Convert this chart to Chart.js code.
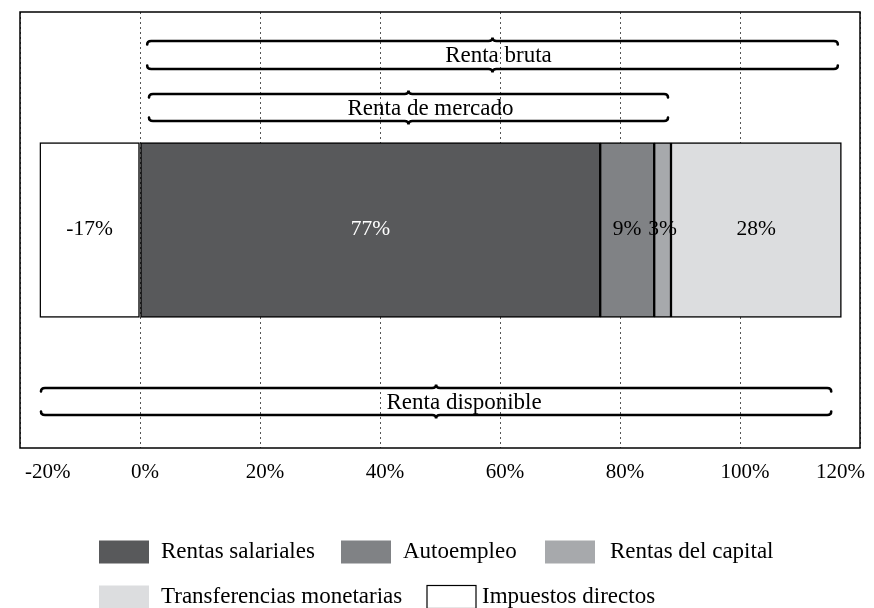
<!DOCTYPE html>
<html>
<head>
<meta charset="utf-8">
<script src="https://cdn.jsdelivr.net/npm/chart.js@4/dist/chart.umd.min.js"></script>
<style>
  html, body { margin: 0; padding: 0; background: #fff; }
  #wrap { width: 874px; height: 608px; position: relative; }
</style>
</head>
<body>
<div id="wrap"><canvas id="c"></canvas></div>
<script>
// ---- Data ----
const categories = [''];
const seriesNames = ['Impuestos directos', 'Rentas salariales', 'Autoempleo', 'Rentas del capital', 'Transferencias monetarias'];
const seriesValues = [-16.7, 76.7, 9.0, 2.8, 28.4];
const legendOrder = ['Rentas salariales', 'Autoempleo', 'Rentas del capital', 'Transferencias monetarias', 'Impuestos directos'];
const xTicks = [-20, 0, 20, 40, 60, 80, 100, 120];
const braceLabels = ['Renta bruta', 'Renta de mercado', 'Renta disponible'];
const braceStart = [1.2, 1.5, -16.5];
const braceEnd = [116.3, 88.0, 115.2];

// ---- Styles / layout ----
const FONT = "'Liberation Serif', 'Times New Roman', serif";
const seriesColors = {
  'Impuestos directos': '#ffffff',
  'Rentas salariales': '#58595b',
  'Autoempleo': '#808285',
  'Rentas del capital': '#a7a9ac',
  'Transferencias monetarias': '#dcdddf'
};
const labelColors = {
  'Rentas salariales': '#ffffff'
};
// brace vertical offsets relative to chart area top (top line, bottom line), label x shift
const braceRows = [[29, 57], [82, 109], [376, 403]];
const braceTextShift = [6, 22, 28];
// legend layout: [boxX, centerY, textX]
const legendLayout = [[99, 552, 161], [341, 552, 403], [545, 552, 610], [99, 597, 161], [427, 597, 482]];

const datasets = seriesNames.map((name, i) => ({
  label: name,
  data: [seriesValues[i]],
  backgroundColor: seriesColors[name],
  borderColor: '#000000',
  borderWidth: 1.5,
  borderSkipped: false,
  barThickness: 175,
  stack: 's'
}));

const boxPlugin = {
  id: 'box',
  afterDraw(chart) {
    const { ctx, chartArea: a } = chart;
    ctx.save();
    ctx.strokeStyle = '#000';
    ctx.lineWidth = 1.5;
    ctx.strokeRect(a.left, a.top, a.right - a.left, a.bottom - a.top);
    ctx.restore();
  }
};

const barLabelPlugin = {
  id: 'barLabels',
  afterDatasetsDraw(chart) {
    const { ctx } = chart;
    ctx.save();
    ctx.font = '21.5px ' + FONT;
    ctx.textAlign = 'center';
    ctx.textBaseline = 'middle';
    chart.data.datasets.forEach((ds, i) => {
      const meta = chart.getDatasetMeta(i);
      meta.data.forEach((el, j) => {
        const { x, y, base } = el.getProps(['x', 'y', 'base'], true);
        ctx.fillStyle = labelColors[ds.label] || '#000';
        ctx.fillText(Math.round(ds.data[j]) + '%', (x + base) / 2, y - 1);
      });
    });
    ctx.restore();
  }
};

function drawBrace(ctx, x1, x2, y, dir) {
  // dir = 1: ends curl downward, middle tip up (top brace); dir = -1: mirrored
  const xm = (x1 + x2) / 2, r = 4, h = 3.5;
  ctx.beginPath();
  ctx.moveTo(x1, y + dir * h);
  ctx.quadraticCurveTo(x1, y, x1 + r, y);
  ctx.lineTo(xm - r, y);
  ctx.quadraticCurveTo(xm, y, xm, y - dir * h);
  ctx.quadraticCurveTo(xm, y, xm + r, y);
  ctx.lineTo(x2 - r, y);
  ctx.quadraticCurveTo(x2, y, x2, y + dir * h);
  ctx.stroke();
}

const bracePlugin = {
  id: 'braces',
  afterDatasetsDraw(chart) {
    const { ctx, chartArea: a } = chart;
    const xs = chart.scales.x;
    ctx.save();
    ctx.strokeStyle = '#000';
    ctx.lineWidth = 2.6;
    ctx.lineCap = 'round';
    ctx.font = '23px ' + FONT;
    ctx.textAlign = 'center';
    ctx.textBaseline = 'middle';
    ctx.fillStyle = '#000';
    braceLabels.forEach((lab, i) => {
      const x1 = xs.getPixelForValue(braceStart[i]);
      const x2 = xs.getPixelForValue(braceEnd[i]);
      const yT = a.top + braceRows[i][0];
      const yB = a.top + braceRows[i][1];
      drawBrace(ctx, x1, x2, yT, 1);
      drawBrace(ctx, x1, x2, yB, -1);
      ctx.fillText(lab, (x1 + x2) / 2 + braceTextShift[i], (yT + yB) / 2 + 1);
    });
    ctx.restore();
  }
};

const legendPlugin = {
  id: 'customLegend',
  afterDraw(chart) {
    const { ctx } = chart;
    ctx.save();
    ctx.font = '23px ' + FONT;
    ctx.textAlign = 'left';
    ctx.textBaseline = 'middle';
    legendOrder.forEach((name, i) => {
      const [bx, cy, tx] = legendLayout[i];
      ctx.fillStyle = seriesColors[name];
      ctx.fillRect(bx, cy - 11.5, 50, 23);
      if (name === 'Impuestos directos') {
        ctx.strokeStyle = '#000';
        ctx.lineWidth = 1.2;
        ctx.strokeRect(bx, cy - 11.5, 49, 23);
      }
      ctx.fillStyle = '#000';
      ctx.fillText(name, tx, cy);
    });
    ctx.restore();
  }
};

new Chart(document.getElementById('c'), {
  type: 'bar',
  data: { labels: categories, datasets },
  plugins: [bracePlugin, barLabelPlugin, boxPlugin, legendPlugin],
  options: {
    indexAxis: 'y',
    responsive: true,
    maintainAspectRatio: false,
    animation: false,
    layout: { padding: { left: 20, right: 14, top: 12, bottom: 124 } },
    plugins: { legend: { display: false }, tooltip: { enabled: false } },
    scales: {
      x: {
        type: 'linear',
        stacked: true,
        min: xTicks[0],
        max: xTicks[xTicks.length - 1],
        afterBuildTicks(scale) { scale.ticks = xTicks.map(v => ({ value: v })); },
        afterFit(scale) { scale.height = 36; scale.paddingLeft = 0; scale.paddingRight = 0; },
        border: { display: false, dash: [2, 3] },
        grid: {
          drawTicks: false,
          color: '#555',
          lineWidth: 1
        },
        ticks: {
          padding: 12,
          align: 'inner',
          labelOffset: 5,
          color: '#000',
          font: { family: FONT, size: 21 },
          callback: v => v + '%'
        }
      },
      y: {
        stacked: true,
        display: false
      }
    }
  }
});
</script>
</body>
</html>
